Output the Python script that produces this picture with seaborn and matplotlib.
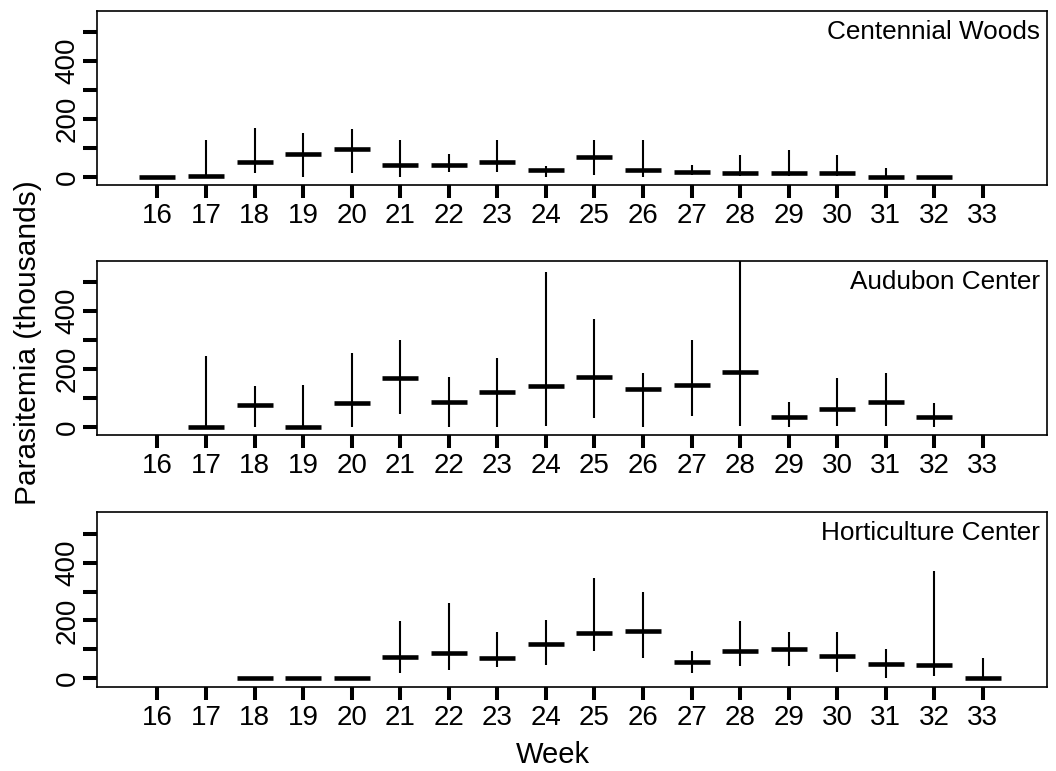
import numpy as np
import pandas as pd
import matplotlib
matplotlib.use("Agg")
import matplotlib.pyplot as plt
import seaborn as sns

# weeks shown on every panel
weeks = list(range(16, 34))

sites = ["Centennial Woods", "Audubon Center", "Horticulture Center"]

nan = np.nan
# median / low / high parasitemia (thousands) per week
cw_med = [0, 2, 51, 80, 97, 40, 40, 52, 24, 70, 24, 16, 15, 15, 14, 1, 0, nan]
cw_lo = [0, 0, 15, 1, 13, 1, 16, 16, 0, 5, 0, 7, 3, 3, 3, 0, 0, nan]
cw_hi = [3, 128, 168, 151, 164, 128, 78, 128, 36, 128, 128, 41, 74, 94, 76, 31, 0, nan]

au_med = [nan, 0, 76, 0, 82, 170, 85, 121, 143, 171, 130, 145, 190, 33, 62, 85, 36, nan]
au_lo = [nan, 0, 1, 0, 0, 43, 0, 0, 3, 30, 1, 38, 3, 0, 3, 3, 1, nan]
au_hi = [nan, 245, 141, 145, 256, 300, 171, 237, 536, 372, 187, 300, 620, 87, 168, 187, 82, nan]

ho_med = [nan, nan, 0, 0, 2, 75, 87, 70, 118, 157, 162, 56, 95, 102, 78, 49, 45, 0]
ho_lo = [nan, nan, 0, 0, 2, 20, 29, 38, 46, 94, 71, 20, 43, 44, 23, 2, 9, 0]
ho_hi = [nan, nan, 0, 0, 2, 199, 259, 160, 201, 347, 299, 95, 199, 159, 159, 101, 371, 69]

y_ticks = [0, 100, 200, 300, 400, 500]
y_ticklabels = ["0", "", "200", "", "400", ""]

data = {
    "Centennial Woods": (cw_med, cw_lo, cw_hi),
    "Audubon Center": (au_med, au_lo, au_hi),
    "Horticulture Center": (ho_med, ho_lo, ho_hi),
}

sns.set_theme(style="white")
plt.rcParams["font.family"] = ["Liberation Sans", "DejaVu Sans"]
plt.rcParams["text.color"] = "black"
plt.rcParams["xtick.color"] = "black"
plt.rcParams["ytick.color"] = "black"

fig = plt.figure(figsize=(10.56, 7.71), dpi=100)

left, width = 0.0921, 0.8993
bottoms = [0.7597, 0.4354, 0.1093]
height = 0.2266

for site, bottom in zip(sites, bottoms):
    ax = fig.add_axes([left, bottom, width, height])
    med, lo, hi = data[site]
    df = pd.DataFrame({"week": weeks, "med": med, "lo": lo, "hi": hi}).dropna()

    # range lines
    ax.vlines(df["week"], df["lo"], df["hi"], color="black", lw=1.5)
    # median bars
    sns.scatterplot(data=df, x="week", y="med", marker="_", s=26.5 ** 2,
                    linewidth=3.3, color="black", ax=ax, legend=False, zorder=3)

    ax.set_xlim(14.76, 34.32)
    ax.set_ylim(-29, 575)
    ax.set_xticks(weeks)
    ax.set_xticklabels([str(w) for w in weeks], fontsize=20, color="black")
    ax.set_yticks(y_ticks)
    ax.set_yticklabels(y_ticklabels, fontsize=20, rotation=90, va="center", color="black")
    ax.tick_params(axis="x", bottom=True, direction="out", length=9, width=2.9, pad=4,
                   color="black")
    ax.tick_params(axis="y", left=True, direction="out", length=10, width=2.9, pad=2,
                   color="black")
    ax.set_xlabel("")
    ax.set_ylabel("")
    for sp in ax.spines.values():
        sp.set_visible(True)
        sp.set_color("black")
        sp.set_linewidth(1.2)
    ax.grid(False)
    ax.text(0.9926, 0.878, site, transform=ax.transAxes, ha="right", va="center",
            fontsize=18.8, color="black")

fig.text(28 / 1056, 1 - 343 / 771, "Parasitemia (thousands)", rotation=90,
         ha="center", va="center", fontsize=21.5, color="black")
fig.text(553 / 1056, 1 - 755 / 771, "Week", ha="center", va="center", fontsize=21,
         color="black")

fig.savefig("out.png", dpi=100, facecolor="white")
